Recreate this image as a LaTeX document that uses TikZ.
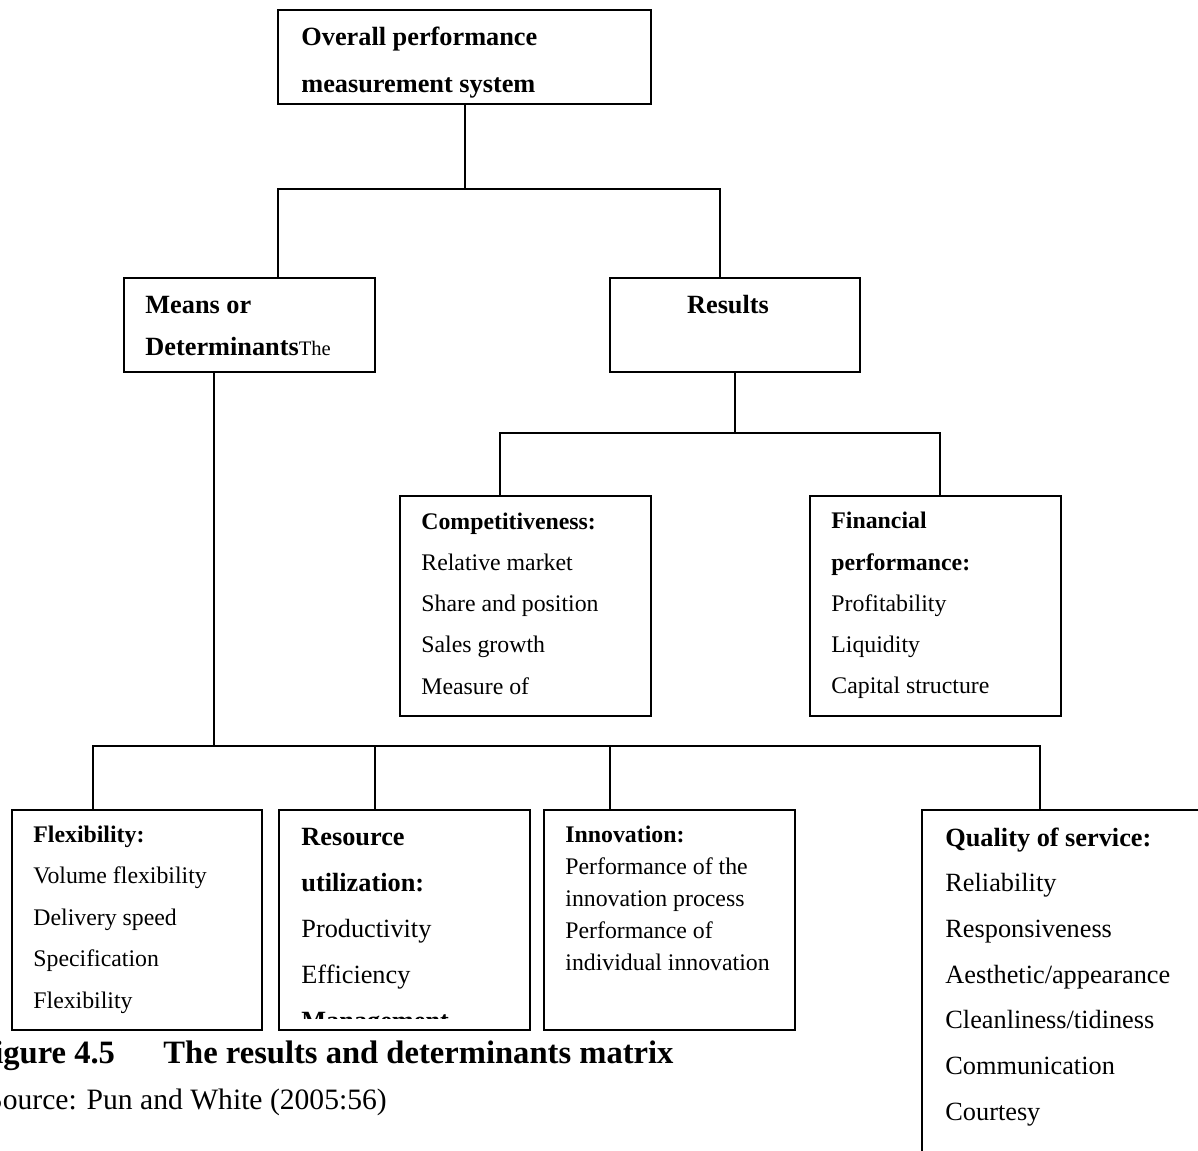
\documentclass[tikz,border=0pt]{standalone}
\usepackage{fontspec}
\setmainfont{Liberation Serif}
\usetikzlibrary{fit}
\begin{document}
\begin{tikzpicture}[x=0.5pt,y=-0.5pt,
  box/.style={draw, line width=1pt, inner sep=0pt},
  wire/.style={draw, line width=1pt},
  big/.style={anchor=base west, inner sep=0pt, font=\fontsize{13.15}{15}\selectfont},
  bigb/.style={anchor=base west, inner sep=0pt, font=\fontsize{13.15}{15}\selectfont\bfseries},
  small/.style={anchor=base west, inner sep=0pt, font=\fontsize{11.9}{14}\selectfont},
  smallb/.style={anchor=base west, inner sep=0pt, font=\fontsize{11.9}{14}\selectfont\bfseries},
]
\useasboundingbox (0,0) rectangle (1198,1150);
\fill[white] (0,0) rectangle (1198,1150);
\clip (0,0) rectangle (1198,1150);

% boxes
\node[box, fit={(278,10)(651,104)}] (top) {};
\node[box, fit={(124,278)(375,372)}] (means) {};
\node[box, fit={(610,278)(860,372)}] (results) {};
\node[box, fit={(400,496)(651,716)}] (comp) {};
\node[box, fit={(810,496)(1061,716)}] (fin) {};
\node[box, fit={(12,810)(262,1030)}] (flex) {};
\node[box, fit={(279,810)(530,1030)}] (res) {};
\node[box, fit={(544,810)(795,1030)}] (innov) {};
\node[box, fit={(922,810)(1300,1300)}] (qual) {};

% top level
\node[bigb] (top-1) at (301,46) {Overall performance};
\node[bigb] (top-2) at (301,93) {measurement system};

% second level
\node[bigb] (means-1) at (145,313) {Means or};
\node[bigb] (means-2) at (145,355) {Determinants{\mdseries\fontsize{10.3}{12}\selectfont The}};
\node[bigb, anchor=base] (results-1) at (728,313) {Results};

% results
\node[smallb] (comp-0) at (421,529) {Competitiveness:};
\foreach \t [count=\i] in {Relative market, Share and position, Sales growth, Measure of}
  \node[small] (comp-\i) at (421,{529+41.3*\i}) {\t};

\node[smallb] (fin-a) at (831,528) {Financial};
\node[smallb] (fin-b) at (831,570) {performance:};
\foreach \t [count=\i] in {Profitability, Liquidity, Capital structure}
  \node[small] (fin-\i) at (831,{570+41.3*\i}) {\t};

% determinants
\node[smallb] (flex-0) at (33,842) {Flexibility:};
\foreach \t [count=\i] in {Volume flexibility, Delivery speed, Specification, Flexibility}
  \node[small] (flex-\i) at (33,{842+41.5*\i}) {\t};

\node[bigb] (res-a) at (301,845) {Resource};
\node[bigb] (res-b) at (301,891) {utilization:};
\node[big] (res-1) at (301,937) {Productivity};
\node[big] (res-2) at (301,983) {Efficiency};
\begin{scope}
  \clip (279,810) rectangle (530,1018);
  \node[bigb] (res-3) at (301,1029) {Management};
\end{scope}

\node[smallb] (innov-0) at (565,842) {Innovation:};
\foreach \t [count=\i] in {Performance of the, innovation process, Performance of, individual innovation}
  \node[small] (innov-\i) at (565,{842+32*\i}) {\t};

\node[bigb] (qual-0) at (945,846) {Quality of service:};
\foreach \t [count=\i] in {Reliability, Responsiveness, Aesthetic/appearance, Cleanliness/tidiness, Communication, Courtesy}
  \node[big] (qual-\i) at (945,{846+45.7*\i}) {\t};

% caption
\node[anchor=base west, inner sep=0pt, font=\fontsize{16.3}{18}\selectfont\bfseries] (capnum) at (-26,1063) {Figure 4.5};
\node[anchor=base west, inner sep=0pt, font=\fontsize{16.3}{18}\selectfont\bfseries] (captitle) at (163,1063) {The results and determinants matrix};
\node[anchor=base west, inner sep=0pt, font=\fontsize{14.8}{17}\selectfont] (source) at (-14,1109) {Source: Pun and White (2005:56)};

% connectors
\coordinate (ja) at (278,189);
\coordinate (jb) at (720,189);
\draw[wire] (top.south) -- (top.south |- ja);
\draw[wire] (ja |- means.north) -- (ja) -- (jb) -- (jb |- results.north);

\coordinate (ka) at (500,433);
\coordinate (kb) at (940,433);
\draw[wire] (results.south) -- (results.south |- ka);
\draw[wire] (ka |- comp.north) -- (ka) -- (kb) -- (kb |- fin.north);

\coordinate (lm) at (214,746);
\coordinate (la) at (93,746);
\coordinate (lb) at (375,746);
\coordinate (lc) at (610,746);
\coordinate (ld) at (1040,746);
\draw[wire] (lm |- means.south) -- (lm);
\draw[wire] (la |- flex.north) -- (la) -- (ld) -- (ld |- qual.north);
\draw[wire] (lb) -- (lb |- res.north);
\draw[wire] (lc) -- (lc |- innov.north);
\end{tikzpicture}
\end{document}
